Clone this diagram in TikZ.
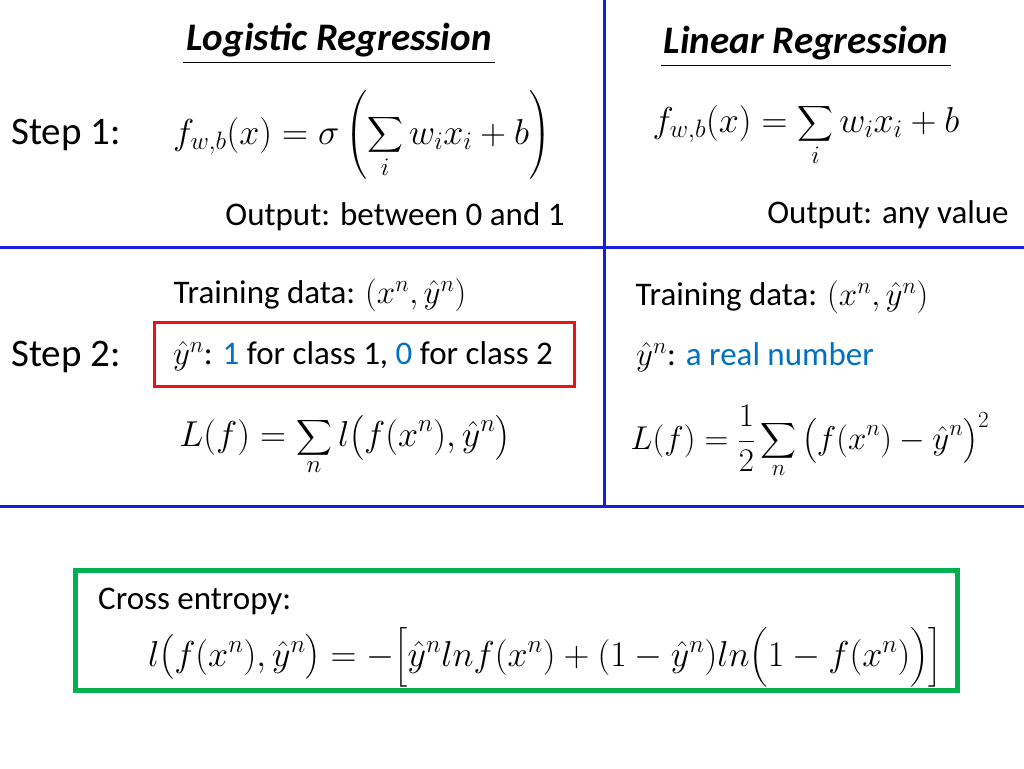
\documentclass[tikz,border=0pt]{standalone}
\usepackage{fix-cm}
\usepackage{amsmath}
\usepackage{fontspec}
\setmainfont{Carlito}
\definecolor{lb}{RGB}{0,112,192}
\definecolor{bl}{RGB}{20,30,220}
\definecolor{rd}{RGB}{230,20,20}
\definecolor{gn}{RGB}{0,176,80}
\begin{document}
\begin{tikzpicture}[x=1pt,y=-1pt,
  txt/.style={font=\fontsize{33}{38}\selectfont,inner sep=0pt},
  stp/.style={font=\fontsize{39}{44}\selectfont,inner sep=0pt},
  mth/.style={font=\fontsize{36}{40}\selectfont,inner sep=0pt},
  mths/.style={font=\fontsize{33}{38}\selectfont,inner sep=0pt},
  ttl/.style={font=\fontsize{39}{44}\selectfont\bfseries\itshape,inner sep=0pt},
  sep/.style={draw=bl,line width=3pt}]
\useasboundingbox (0,0) rectangle (1024,768);
\draw[sep] (604,0) coordinate(v1) -- (604,505) coordinate(v2);
\draw[sep] (0,247) coordinate(h1) -- (1024,247) coordinate(h2);
\draw[sep] (0,506) coordinate(h3) -- (1024,506) coordinate(h4);
\node[draw=rd,line width=3pt,minimum width=420pt,minimum height=64pt] (red) at (364,354) {};
\node[draw=gn,line width=5pt,minimum width=882pt,minimum height=120pt] (green) at (516,630) {};
\node[ttl] (t1) at (339,40) {Logistic Regression};
\draw[line width=1pt] (183,62) coordinate(u1) -- (495,62) coordinate(u2);
\node[ttl] (t2) at (806,43) {Linear Regression};
\draw[line width=1pt] (661,65) coordinate(u3) -- (951,65) coordinate(u4);
\node[stp] (s1) at (66,135) {Step 1:};
\node[mth] (f1) at (362,135) {$\displaystyle f_{w,b}(x)=\sigma\left(\sum_i w_ix_i+b\right)$};
\node[txt] (o1) at (395,217) {Output: between 0 and 1};
\node[mth] (f2) at (806,135) {$\displaystyle f_{w,b}(x)=\sum_i w_ix_i+b$};
\node[txt] (o2) at (888,215) {Output: any value};
\node[txt] (td1) at (320,295) {Training data: $(x^n,\hat y^n)$};
\node[txt] (td2) at (782,297) {Training data: $(x^n,\hat y^n)$};
\node[stp] (s2) at (66,357) {Step 2:};
\node[txt] (c1) at (363,356) {$\hat y^n$: \textcolor{lb}{1} for class 1, \textcolor{lb}{0} for class 2};
\node[txt] (c2) at (755,357) {$\hat y^n$: \textcolor{lb}{a real number}};
\node[mth] (l1) at (345,445) {$\displaystyle L(f)=\sum_n l\big(f(x^n),\hat y^n\big)$};
\node[mths] (l2) at (810,442) {$\displaystyle L(f)=\frac12\sum_n \big(f(x^n)-\hat y^n\big)^2$};
\node[txt,anchor=west] (ce) at (98,601) {Cross entropy:};
\node[mth] (cf) at (545,657) {$l\big(f(x^n),\hat y^n\big)=-\Big[\hat y^n lnf(x^n)+(1-\hat y^n)ln\Big(1-f(x^n)\Big)\Big]$};
\end{tikzpicture}
\end{document}
